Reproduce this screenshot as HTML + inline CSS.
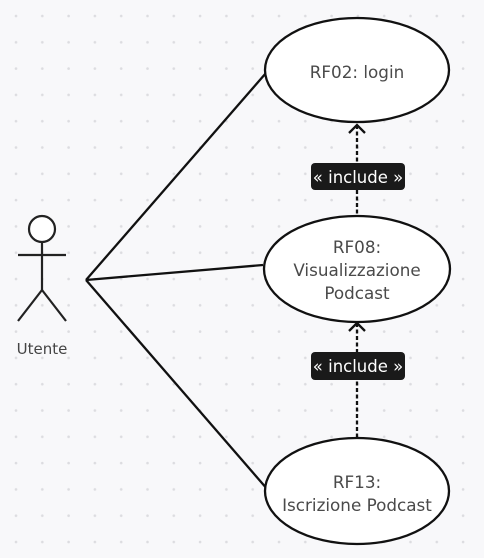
<!DOCTYPE html>
<html><head><style>
html,body{margin:0;padding:0;background:#f8f8fa;}
svg{display:block;}
text{font-family:"DejaVu Sans","Liberation Sans",sans-serif;}
</style></head><body>
<svg width="484" height="558" viewBox="0 0 484 558">
<defs>
<pattern id="d" x="3" y="3" width="26.3" height="26.3" patternUnits="userSpaceOnUse">
<circle cx="13" cy="13" r="1.3" fill="#dcdce0"/>
</pattern>
</defs>
<rect width="484" height="558" fill="#f8f8fa"/>
<rect width="484" height="558" fill="url(#d)"/>
<g stroke="#111" stroke-width="2.3" fill="none">
<line x1="86" y1="280" x2="266" y2="73"/>
<line x1="86" y1="280" x2="263" y2="265"/>
<line x1="86" y1="280" x2="268" y2="490"/>
<line x1="357" y1="125" x2="357" y2="216" stroke-dasharray="4,2.5"/>
<polyline points="349,133 357,125 365,133"/>
<line x1="357" y1="323" x2="357" y2="438" stroke-dasharray="4,2.5"/>
<polyline points="349,331 357,323 365,331"/>
</g>
<g stroke="#111" stroke-width="2.3" fill="#fff">
<ellipse cx="357" cy="70" rx="92" ry="52"/>
<ellipse cx="357" cy="269" rx="93" ry="53"/>
<ellipse cx="357" cy="491" rx="92" ry="53"/>
</g>
<g stroke="#222" stroke-width="2.2" fill="none">
<circle cx="42" cy="229" r="13" fill="#fff"/>
<line x1="42" y1="242" x2="42" y2="290"/>
<line x1="18" y1="255" x2="66" y2="255"/>
<line x1="42" y1="290" x2="18" y2="321"/>
<line x1="42" y1="290" x2="66" y2="321"/>
</g>
<text x="42" y="354" text-anchor="middle" font-size="15" fill="#444">Utente</text>
<g font-size="16.8" fill="#4a4a4a" text-anchor="middle">
<text x="357" y="78">RF02: login</text>
<text x="357" y="253">RF08:</text>
<text x="357" y="276">Visualizzazione</text>
<text x="357" y="299">Podcast</text>
<text x="357" y="488">RF13:</text>
<text x="357" y="511">Iscrizione Podcast</text>
</g>
<rect x="311" y="163" width="94" height="27" rx="4" fill="#1a1a1a"/>
<text x="358" y="183" text-anchor="middle" font-size="16.5" fill="#fff">« include »</text>
<rect x="311" y="352" width="94" height="28" rx="4" fill="#1a1a1a"/>
<text x="358" y="372" text-anchor="middle" font-size="16.5" fill="#fff">« include »</text>
</svg>
</body></html>
